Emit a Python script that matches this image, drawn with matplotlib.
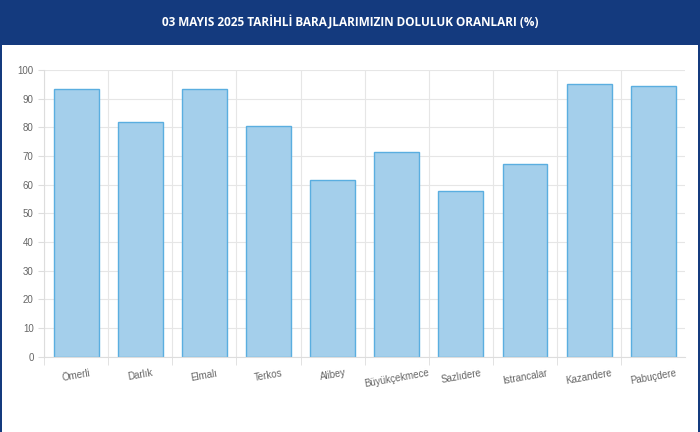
import matplotlib
matplotlib.use("Agg")
import matplotlib.pyplot as plt
from matplotlib.patches import Rectangle, FancyBboxPatch

title = "03 MAYIS 2025 TARİHLİ BARAJLARIMIZIN DOLULUK ORANLARI (%)"
dams = ["Ömerli", "Darlık", "Elmalı", "Terkos", "Alibey", "Büyükçekmece",
        "Sazlıdere", "Istrancalar", "Kazandere", "Pabuçdere"]
fill_rates = [93.2, 81.8, 93.5, 80.4, 61.6, 71.3, 57.8, 67.2, 95.0, 94.5]

fig = plt.figure(figsize=(7, 4.32), dpi=100)
fig.patch.set_facecolor("white")

# header band and side borders
fig.add_artist(Rectangle((0, 0.896), 1, 0.104, transform=fig.transFigure,
                         facecolor="#143a7e", edgecolor="none"))
fig.add_artist(Rectangle((0, 0), 0.003, 0.9, transform=fig.transFigure,
                         facecolor="#143a7e", edgecolor="none"))
fig.add_artist(Rectangle((0.997, 0), 0.003, 0.9, transform=fig.transFigure,
                         facecolor="#143a7e", edgecolor="none"))
fig.text(0.5, 0.948, title, ha="center", va="center", color="white",
         fontsize=8.5, fontweight="bold", family="Open Sans")

ax = fig.add_axes([0.063, 0.174, 0.916, 0.664])
x = range(len(dams))
ax.bar(x, fill_rates, width=0.7, color="#a4cfeb", edgecolor="#5aaee0", linewidth=1)
ax.set_xlim(-0.5, len(dams) - 0.5)
ax.set_ylim(0, 100)
ax.set_yticks(range(0, 101, 10))
ax.set_xticks([i - 0.5 for i in x], minor=True)
ax.set_xticks(list(x))
ax.set_xticklabels(dams, rotation=10, fontsize=7, color="#666666", ha="center",
                   family="Liberation Sans")
ax.tick_params(axis="y", labelsize=7, colors="#666666", length=4, color="#dddddd")
ax.tick_params(axis="x", which="both", length=0, pad=8)
ax.tick_params(axis="x", which="minor", length=6, color="#dddddd")
for lab in ax.get_yticklabels():
    lab.set_family("Liberation Sans")
ax.grid(axis="y", color="#e6e6e6", linewidth=0.8)
ax.grid(axis="x", which="minor", color="#e6e6e6", linewidth=0.8)
ax.set_axisbelow(True)
for s in ["top", "right"]:
    ax.spines[s].set_visible(False)
for s in ["left", "bottom"]:
    ax.spines[s].set_color("#dddddd")

fig.savefig("out.png", dpi=100)
